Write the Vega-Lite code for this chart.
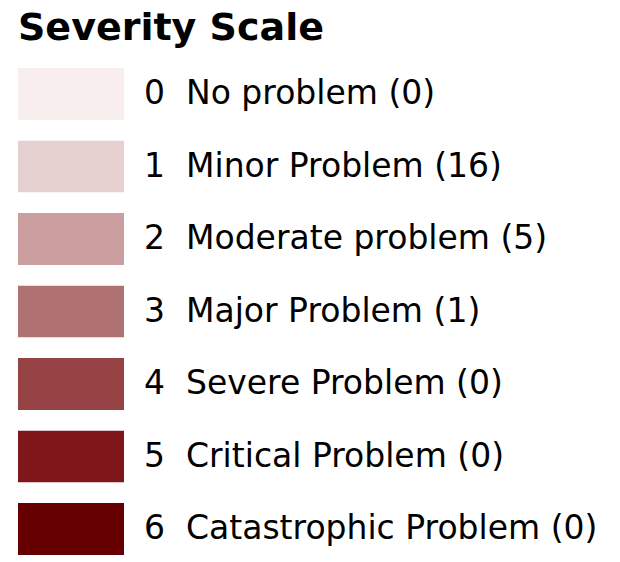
{
  "$schema": "https://vega.github.io/schema/vega-lite/v6.json",
  "width": 620,
  "height": 562,
  "autosize": "none",
  "padding": 0,
  "background": "white",
  "config": {"view": {"stroke": null}},
  "data": {
    "values": [
      {"level": 0, "entry": "0\u2007No problem (0)"},
      {"level": 1, "entry": "1\u2007Minor Problem (16)"},
      {"level": 2, "entry": "2\u2007Moderate problem (5)"},
      {"level": 3, "entry": "3\u2007Major Problem (1)"},
      {"level": 4, "entry": "4\u2007Severe Problem (0)"},
      {"level": 5, "entry": "5\u2007Critical Problem (0)"},
      {"level": 6, "entry": "6\u2007Catastrophic Problem (0)"}
    ]
  },
  "mark": {"type": "point", "filled": true, "size": 0},
  "encoding": {
    "color": {
      "field": "entry",
      "type": "nominal",
      "scale": {"range": ["#f8eeee", "#e6d0d0", "#cb9fa0", "#b07172", "#974345", "#7f161a", "#660000"]},
      "legend": {
        "title": "Severity Scale",
        "orient": "none",
        "legendX": 18,
        "legendY": 10,
        "padding": 0,
        "titleFont": "DejaVu Sans",
        "titleFontSize": 38,
        "titleFontWeight": "bold",
        "titleColor": "#000000",
        "titlePadding": 20,
        "titleLimit": 600,
        "symbolType": "M-1,-0.4906H1V0.4906H-1Z",
        "symbolSize": 11236,
        "symbolStrokeWidth": 0,
        "symbolOpacity": 1,
        "clipHeight": 52,
        "rowPadding": 20.5,
        "labelFont": "DejaVu Sans",
        "labelFontSize": 33,
        "labelColor": "#000000",
        "labelOffset": 20,
        "labelLimit": 600
      }
    }
  }
}
